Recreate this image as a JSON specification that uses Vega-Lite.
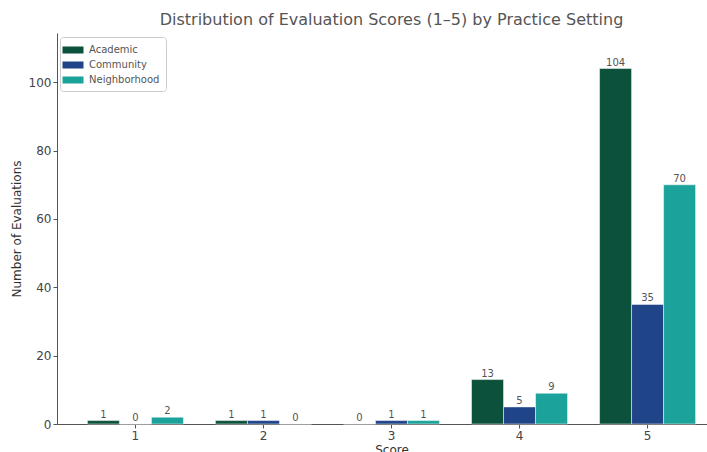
{
  "$schema": "https://vega.github.io/schema/vega-lite/v6.json",
  "width": 669,
  "height": 391,
  "autosize": {"type": "none"},
  "padding": {"left": 57, "top": 33, "right": 0, "bottom": 28},
  "background": "white",
  "config": {
    "view": {"stroke": null},
    "font": "DejaVu Sans",
    "axis": {"grid": false, "domainColor": "#555", "tickColor": "#555", "labelColor": "#444", "titleColor": "#333", "labelFont": "DejaVu Sans", "titleFont": "DejaVu Sans", "labelFontSize": 12, "titleFontSize": 12, "titleFontWeight": "normal", "tickSize": 4, "domainWidth": 1}
  },
  "title": {"text": "Distribution of Evaluation Scores (1–5) by Practice Setting", "font": "DejaVu Sans", "fontSize": 16, "fontWeight": "normal", "color": "#555", "anchor": "middle", "offset": 5},
  "data": {"values": [
    {"score": "1", "setting": "Academic", "count": 1},
    {"score": "1", "setting": "Community", "count": 0},
    {"score": "1", "setting": "Neighborhood", "count": 2},
    {"score": "2", "setting": "Academic", "count": 1},
    {"score": "2", "setting": "Community", "count": 1},
    {"score": "2", "setting": "Neighborhood", "count": 0},
    {"score": "3", "setting": "Academic", "count": 0},
    {"score": "3", "setting": "Community", "count": 1},
    {"score": "3", "setting": "Neighborhood", "count": 1},
    {"score": "4", "setting": "Academic", "count": 13},
    {"score": "4", "setting": "Community", "count": 5},
    {"score": "4", "setting": "Neighborhood", "count": 9},
    {"score": "5", "setting": "Academic", "count": 104},
    {"score": "5", "setting": "Community", "count": 35},
    {"score": "5", "setting": "Neighborhood", "count": 70}
  ]},
  "encoding": {
    "x": {"field": "score", "type": "ordinal", "title": "Score", "scale": {"paddingInner": 0.25, "paddingOuter": 0.2375}, "axis": {"labelAngle": 0, "labelPadding": 2, "titlePadding": 3}},
    "xOffset": {"field": "setting", "type": "nominal", "sort": ["Academic", "Community", "Neighborhood"], "scale": {"paddingInner": 0, "paddingOuter": 0}},
    "y": {"field": "count", "type": "quantitative", "title": "Number of Evaluations", "scale": {"domain": [0, 114.4], "nice": false}, "axis": {"values": [0, 20, 40, 60, 80, 100], "titlePadding": 5, "labelPadding": 2}}
  },
  "layer": [
    {
      "mark": {"type": "bar", "stroke": "white", "strokeWidth": 0.5},
      "encoding": {
        "color": {"field": "setting", "type": "nominal", "sort": ["Academic", "Community", "Neighborhood"], "scale": {"domain": ["Academic", "Community", "Neighborhood"], "range": ["#0b513b", "#1f4488", "#1ba39b"]},
          "legend": {"title": null, "orient": "none", "legendX": 3, "legendY": 4, "symbolType": "M-1.5,-0.5L1.5,-0.5L1.5,0.5L-1.5,0.5Z", "symbolSize": 196, "symbolStrokeWidth": 0, "labelFontSize": 10, "labelColor": "#555", "labelFont": "DejaVu Sans", "rowPadding": 3, "padding": 6, "strokeColor": "#ccc", "fillColor": "white", "cornerRadius": 3, "symbolOffset": 0, "labelOffset": 9}}
      }
    },
    {
      "mark": {"type": "text", "dy": -6, "fontSize": 10, "color": "#555", "font": "DejaVu Sans"},
      "encoding": {"text": {"field": "count", "type": "quantitative"}}
    }
  ]
}
